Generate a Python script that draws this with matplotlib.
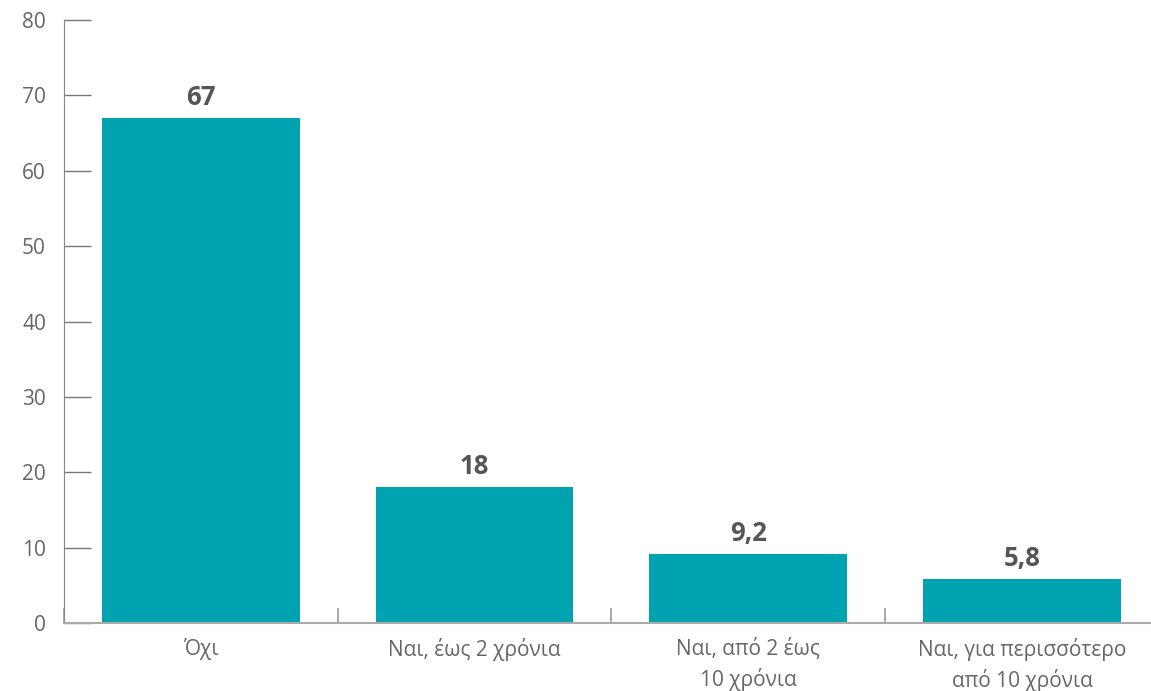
import numpy as np
import matplotlib.pyplot as plt
from matplotlib.ticker import FixedLocator

plt.rcParams['font.family'] = ['Open Sans', 'DejaVu Sans']

categories = ["Όχι", "Ναι, έως 2 χρόνια", "Ναι, από 2 έως\n10 χρόνια",
              "Ναι, για περισσότερο\nαπό 10 χρόνια"]
values = [67, 18, 9.2, 5.8]
value_labels = ["67", "18", "9,2", "5,8"]
yticks = [0, 10, 20, 30, 40, 50, 60, 70, 80]

bar_color = "#00A3AF"
text_gray = "#666666"

fig = plt.figure(figsize=(11.51, 6.91), dpi=100)
ax = fig.add_axes([64 / 1151, 68 / 691, 1087 / 1151, 603 / 691])

x = np.arange(len(categories))
bars = ax.bar(x, values, width=0.723, color=bar_color, zorder=2)

for b, lab in zip(bars, value_labels):
    ax.annotate(lab, (b.get_x() + b.get_width() / 2, b.get_height()),
                xytext=(0, 5), textcoords="offset points",
                ha="center", va="bottom", fontsize=18.5, fontweight="bold",
                color="#555555")

ax.set_xlim(-0.5, -0.5 + 1087 / 273.7)
ax.set_ylim(0, 80)

ax.set_yticks(yticks)
ax.tick_params(axis="y", direction="in", length=19.5, width=1, color="#777777",
               pad=13, labelsize=15, labelcolor=text_gray)

ax.set_xticks(x)
ax.set_xticklabels(categories, linespacing=1.45)
ax.tick_params(axis="x", which="major", length=0, pad=11, labelsize=15,
               labelcolor=text_gray)
ax.xaxis.set_minor_locator(FixedLocator([-0.5, 0.5, 1.5, 2.5]))
ax.tick_params(axis="x", which="minor", direction="in", length=11, width=1.2,
               color="#999999")

for s in ["top", "right"]:
    ax.spines[s].set_visible(False)
ax.spines["left"].set_color("#888888")
ax.spines["bottom"].set_color("#aaaaaa")
ax.spines["bottom"].set_linewidth(1.5)

fig.savefig("out.png", dpi=100)
